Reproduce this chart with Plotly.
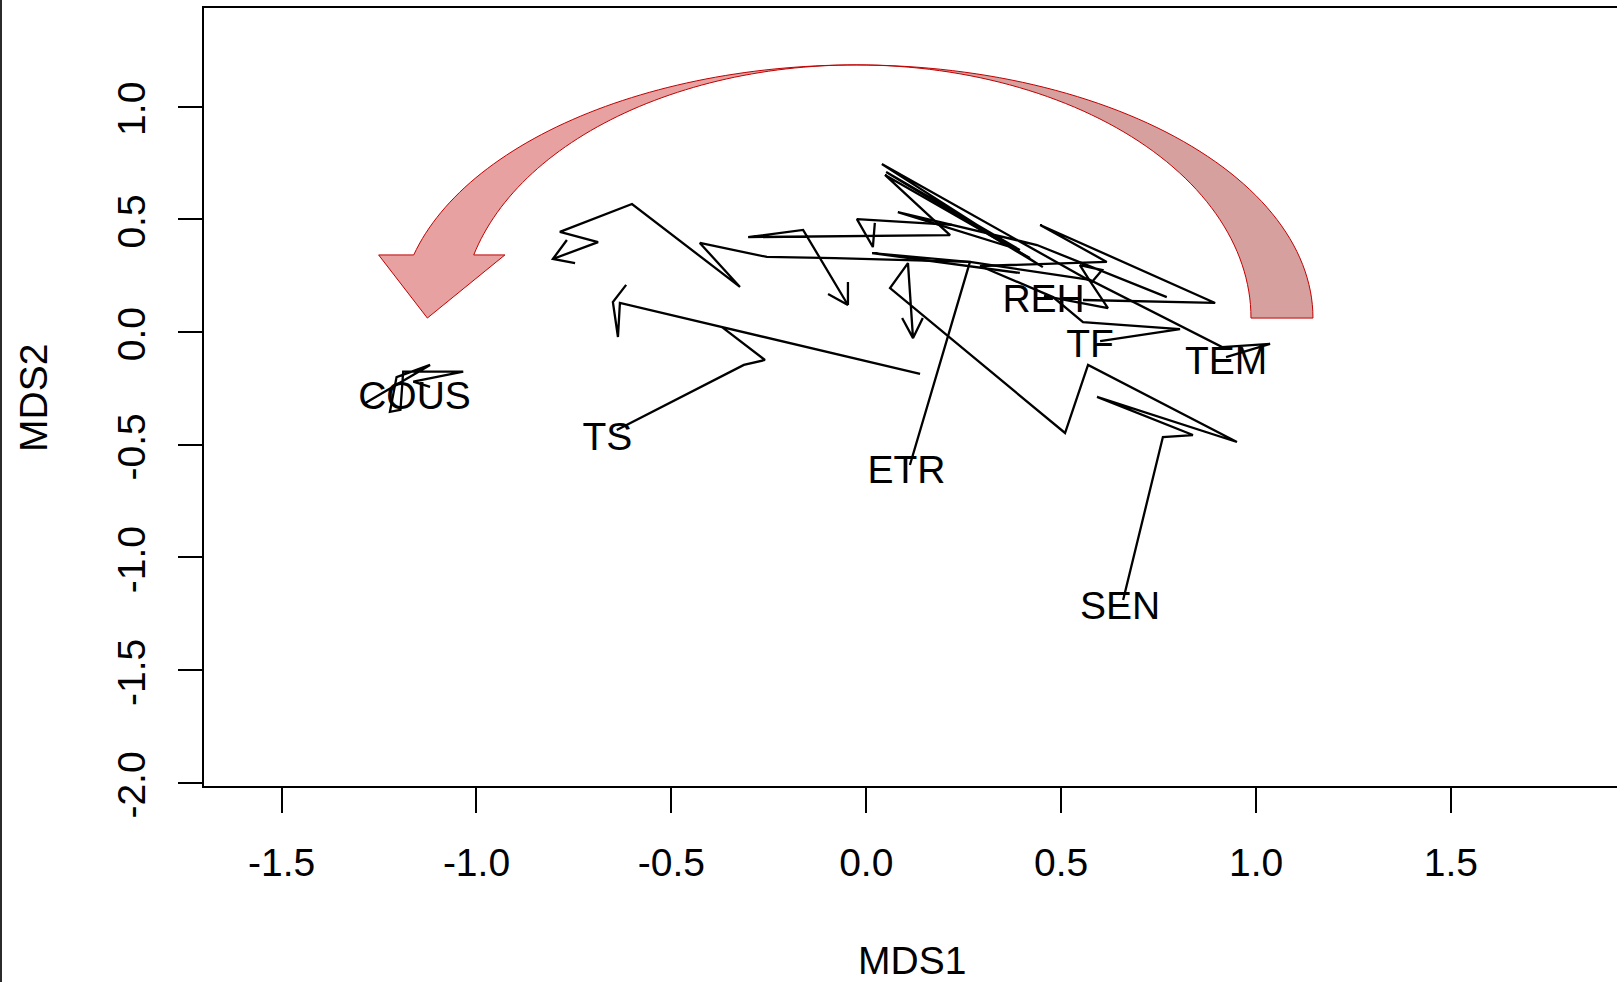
import numpy as np
import plotly.graph_objects as go

# ---- data: trajectories in ordination space (MDS1, MDS2); None = break ----
COUS_x = [-1.286, -1.119, -1.205, -1.222, -1.195, -1.188, -1.034, -1.162, -1.119]
COUS_y = [-0.316, -0.146, -0.200, -0.354, -0.345, -0.176, -0.176, -0.220, -0.243]

TS_x = [-0.640, -0.314, -0.260, -0.370, 0.138, -0.632, -0.637, -0.650, -0.616]
TS_y = [-0.435, -0.146, -0.124, 0.022, -0.186, 0.129, -0.022, 0.133, 0.209]

ETR_x = [0.112, 0.266, 0.015, 0.394, None,
         -0.098, -0.047, -0.162, -0.303, 0.215, 0.048, 0.420, None,
         -0.047, -0.047, None,
         0.220, -0.024, 0.017, 0.022]
ETR_y = [-0.590, 0.311, 0.350, 0.262, None,
         0.169, 0.120, 0.453, 0.421, 0.430, 0.697, 0.328, None,
         0.222, 0.120, None,
         0.475, 0.501, 0.377, 0.484]

REH_x = [0.456, 0.620, 0.574, 0.548, 0.605, 0.579, 0.040, 0.453, 0.051, 0.394, 0.081, 0.258, 0.438, 0.771]
REH_y = [0.160, 0.106, 0.226, 0.297, 0.275, 0.222, 0.745, 0.288, 0.710, 0.364, 0.532, 0.461, 0.386, 0.155]

TF_x = [0.600, 0.805, 0.556, 0.479, 0.292, 0.617, 0.446, 0.895, 0.556]
TF_y = [-0.040, 0.013, 0.044, 0.155, 0.293, 0.311, 0.475, 0.129, 0.142]

TEM_x = [0.923, 1.036, 0.913, 0.574, 0.266, -0.080, -0.255, -0.427, -0.324, -0.601,
         -0.786, -0.688, -0.804, -0.768, -0.804, -0.747]
TEM_y = [-0.111, -0.053, -0.067, 0.231, 0.311, 0.328, 0.333, 0.395, 0.200, 0.568,
         0.444, 0.399, 0.324, 0.408, 0.324, 0.306]

SEN_x = [0.659, 0.761, 0.838, 0.592, 0.951, 0.569, 0.510, 0.061, 0.107, 0.120, 0.092, 0.120, 0.145]
SEN_y = [-1.189, -0.466, -0.457, -0.288, -0.488, -0.146, -0.448, 0.195, 0.306, -0.027, 0.062, -0.027, 0.062]

label_names = ["COUS", "TS", "ETR", "REH", "TF", "TEM", "SEN"]
label_x = [-1.159, -0.664, 0.103, 0.455, 0.574, 0.923, 0.651]
label_y = [-0.298, -0.480, -0.627, 0.133, -0.069, -0.142, -1.231]

x_ticks = [-1.5, -1.0, -0.5, 0.0, 0.5, 1.0, 1.5]
x_ticktext = ["-1.5", "-1.0", "-0.5", "0.0", "0.5", "1.0", "1.5"]
y_ticks = [-2.0, -1.5, -1.0, -0.5, 0.0, 0.5, 1.0]
y_ticktext = ["-2.0", "-1.5", "-1.0", "-0.5", "0.0", "0.5", "1.0"]

X_RANGE = [-1.699, 1.926]
Y_RANGE = [-2.014, 1.4375]

FONT = "Liberation Sans, Arial, sans-serif"
FS = 39

fig = go.Figure()
paths = [(COUS_x, COUS_y), (TS_x, TS_y), (ETR_x, ETR_y), (REH_x, REH_y),
         (TF_x, TF_y), (TEM_x, TEM_y), (SEN_x, SEN_y)]
for name, (px, py) in zip(label_names, paths):
    fig.add_trace(go.Scatter(x=px, y=py, mode="lines", name=name,
                             line=dict(color="black", width=2.3),
                             connectgaps=False, showlegend=False, hoverinfo="skip"))

fig.add_trace(go.Scatter(x=label_x, y=label_y, mode="text", text=label_names,
                         textposition="middle center",
                         textfont=dict(family=FONT, size=FS, color="black"),
                         showlegend=False, hoverinfo="skip"))

# ---- curved arrow decoration (two halves) ----
cx, cy, b = -0.026, 0.062, 1.123
a_out, a_in = 1.172, 1.013
y_base = 0.342
th_base = np.arccos((y_base - cy) / b)
barb_l, barb_r, tip = (-1.251, y_base), (-0.927, y_base), (-1.126, cy)

def pts(a, t, sign):
    return [(cx + sign * a * np.sin(tt), cy + b * np.cos(tt)) for tt in t]

t_left = np.linspace(0, th_base, 60)
left = pts(a_out, t_left, -1) + [barb_l, tip, barb_r] + pts(a_in, t_left[::-1], -1)
t_right = np.linspace(0, np.pi / 2, 60)
right = pts(a_out, t_right, 1) + pts(a_in, t_right[::-1], 1)

def to_path(p):
    return "M " + " L ".join(f"{x:.4f},{y:.4f}" for x, y in p) + " Z"

fig.add_shape(type="path", path=to_path(left), xref="x", yref="y",
              fillcolor="#E8A1A1", line=dict(color="#C00000", width=1), layer="above")
fig.add_shape(type="path", path=to_path(right), xref="x", yref="y",
              fillcolor="#D6A09F", line=dict(color="#C00000", width=1), layer="above")

# window edge line at far left
W, H = 1617, 982
L, R, T, B = 204, 0, 8, 196
pw, ph = W - L - R, H - T - B
fig.add_shape(type="line", xref="paper", yref="paper",
              x0=(1 - L) / pw, x1=(1 - L) / pw, y0=-(B) / ph, y1=1 + T / ph,
              line=dict(color="#2b2b2b", width=2))

axis_common = dict(showgrid=False, zeroline=False, showline=True, linecolor="black",
                   linewidth=2, ticks="outside", tickcolor="black", tickwidth=1.5,
                   tickfont=dict(family=FONT, size=FS, color="black"))
fig.update_xaxes(range=X_RANGE, tickvals=x_ticks, ticktext=x_ticktext, ticklen=25,
                 mirror=True, ticklabelstandoff=16, **axis_common)
fig.update_yaxes(range=Y_RANGE, tickvals=y_ticks, ticktext=y_ticktext, ticklen=24,
                 tickangle=-90, ticklabelstandoff=17, ticklabelshift=8, **axis_common)

fig.add_annotation(text="MDS1", xref="paper", yref="paper",
                   x=(911.6 - L) / pw, y=(H - B - 960) / ph, showarrow=False,
                   xanchor="center", yanchor="middle",
                   font=dict(family=FONT, size=FS, color="black"))
fig.add_annotation(text="MDS2", xref="paper", yref="paper", textangle=-90,
                   x=(34 - L) / pw, y=(H - B - 398) / ph, showarrow=False,
                   xanchor="center", yanchor="middle",
                   font=dict(family=FONT, size=FS, color="black"))

fig.update_layout(width=W, height=H, margin=dict(l=L, r=R, t=T, b=B, pad=0),
                  plot_bgcolor="white", paper_bgcolor="white")
fig.write_html("out.html", config={"displayModeBar": False},
               post_script="document.body.style.margin='0';"
                           "document.documentElement.style.overflow='hidden';")
